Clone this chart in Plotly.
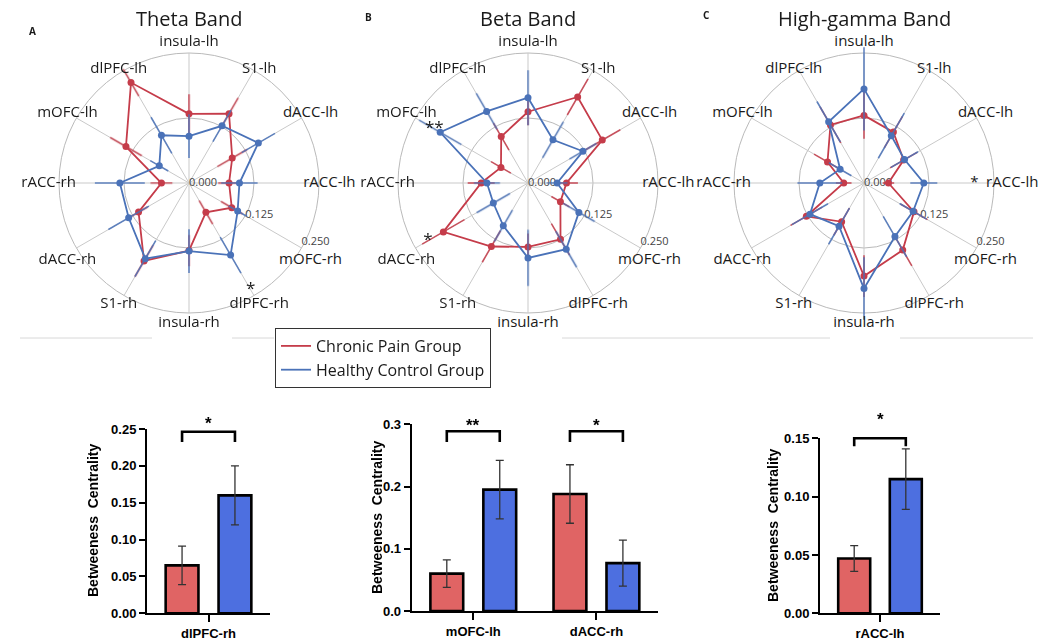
import plotly.graph_objects as go

# ---------------- data ----------------
regions = ["insula-lh", "S1-lh", "dACC-lh", "rACC-lh", "mOFC-rh", "dlPFC-rh",
           "insula-rh", "S1-rh", "dACC-rh", "rACC-rh", "mOFC-lh", "dlPFC-lh"]

theta_pain = [0.133, 0.154, 0.096, 0.077, 0.095, 0.065, 0.130, 0.173, 0.112, 0.053, 0.140, 0.223]
theta_pain_err = [0.038, 0.035, 0.033, 0.021, 0.024, 0.026, 0.030, 0.035, 0.020, 0.021, 0.035, 0.030]
theta_ctrl = [0.090, 0.127, 0.154, 0.097, 0.108, 0.160, 0.131, 0.168, 0.134, 0.133, 0.066, 0.106]
theta_ctrl_err = [0.042, 0.035, 0.037, 0.035, 0.020, 0.040, 0.042, 0.040, 0.045, 0.048, 0.020, 0.040]

beta_pain = [0.137, 0.191, 0.165, 0.074, 0.072, 0.125, 0.123, 0.141, 0.188, 0.090, 0.060, 0.103]
beta_pain_err = [0.026, 0.040, 0.040, 0.022, 0.020, 0.035, 0.026, 0.035, 0.047, 0.026, 0.022, 0.030]
beta_ctrl = [0.164, 0.096, 0.122, 0.056, 0.113, 0.147, 0.144, 0.095, 0.077, 0.079, 0.195, 0.159]
beta_ctrl_err = [0.053, 0.040, 0.030, 0.020, 0.035, 0.040, 0.054, 0.035, 0.037, 0.025, 0.047, 0.040]

gamma_pain = [0.130, 0.113, 0.088, 0.047, 0.111, 0.149, 0.179, 0.086, 0.128, 0.039, 0.081, 0.129]
gamma_pain_err = [0.045, 0.035, 0.030, 0.011, 0.030, 0.035, 0.040, 0.030, 0.035, 0.015, 0.030, 0.040]
gamma_ctrl = [0.181, 0.105, 0.090, 0.115, 0.109, 0.119, 0.203, 0.096, 0.120, 0.085, 0.053, 0.136]
gamma_ctrl_err = [0.080, 0.050, 0.030, 0.026, 0.030, 0.045, 0.060, 0.040, 0.040, 0.043, 0.025, 0.045]

band_titles = ["Theta Band", "Beta Band", "High-gamma Band"]
panel_letters = ["A", "B", "C"]

radial_ticks = [0, 0.125, 0.25]
radial_ticktext = ["0.000", "0.125", "0.250"]
radial_label_region = "mOFC-rh"

# significance markers on radar: (band index, region, stars, radius or None = in front of label)
radar_sig = [(0, "dlPFC-rh", "*", 0.237), (1, "mOFC-lh", "**", 0.208),
             (1, "dACC-rh", "*", 0.222), (2, "rACC-lh", "*", None)]

# bar charts
bar1_cats = ["dlPFC-rh"]
bar1_pain = [0.065]
bar1_pain_err = [0.026]
bar1_ctrl = [0.160]
bar1_ctrl_err = [0.040]
bar1_stars = ["*"]

bar2_cats = ["mOFC-lh", "dACC-rh"]
bar2_pain = [0.060, 0.188]
bar2_pain_err = [0.022, 0.047]
bar2_ctrl = [0.195, 0.077]
bar2_ctrl_err = [0.047, 0.037]
bar2_stars = ["**", "*"]

bar3_cats = ["rACC-lh"]
bar3_pain = [0.047]
bar3_pain_err = [0.011]
bar3_ctrl = [0.115]
bar3_ctrl_err = [0.026]
bar3_stars = ["*"]

group_names = ["Chronic Pain Group", "Healthy Control Group"]
bar_ytitle = "Betweeness\u00a0 Centrality"

# ---------------- style ----------------
W, H = 1049, 644
RED = "#C53C4A"
BLUE = "#4A72B8"
BAR_RED = "#E06464"
BAR_BLUE = "#4D6FE0"
GRID = "#c9c9c9"
CIRCLE = "#bababa"
TXT = "#1a1a1a"
RFONT = "Open Sans"
BFONT = "Liberation Sans, Arial"
R_EDGE = 0.25      # outer circle value
R_MAX = 0.29       # radial range (room for region labels)
LABEL_R = 0.27     # radius of the region label ring
label_textpos = ["middle center", "bottom center", "middle center", "middle center",
                 "bottom center", "middle center", "middle center", "middle center",
                 "bottom center", "middle center", "middle center", "bottom center"]
radial_textpos = ["middle right", "middle right", "top right"]

def px_x(a, b):
    return [a / W, b / W]

def px_y(top, bottom):
    return [1 - bottom / H, 1 - top / H]

polar_centers = [189, 528, 864]
polar_cy = 183
edge_px = 130
dom_R = edge_px * R_MAX / R_EDGE

fig = go.Figure()

bands = [
    (theta_pain, theta_pain_err, theta_ctrl, theta_ctrl_err),
    (beta_pain, beta_pain_err, beta_ctrl, beta_ctrl_err),
    (gamma_pain, gamma_pain_err, gamma_ctrl, gamma_ctrl_err),
]

for bi, (p, pe, c, ce) in enumerate(bands):
    sub = "polar" if bi == 0 else f"polar{bi + 1}"
    # spokes
    sr, st = [], []
    for reg in regions:
        sr += [0, R_EDGE, None]
        st += [reg, reg, reg]
    fig.add_trace(go.Scatterpolar(r=sr, theta=st, mode="lines", subplot=sub,
                                  line=dict(color=GRID, width=1), connectgaps=False,
                                  showlegend=False, hoverinfo="skip"))
    # radial tick labels (left-anchored at the axis points)
    fig.add_trace(go.Scatterpolar(r=radial_ticks, theta=[radial_label_region] * len(radial_ticks),
                                  mode="text", text=radial_ticktext, subplot=sub,
                                  textposition=radial_textpos, cliponaxis=False,
                                  textfont=dict(size=11, family=RFONT, color="#444"),
                                  showlegend=False, hoverinfo="skip"))
    for gi, (vals, errs, col) in enumerate([(p, pe, RED), (c, ce, BLUE)]):
        er, et = [], []
        for reg, v, e in zip(regions, vals, errs):
            er += [max(v - e, 0), v + e, None]
            et += [reg, reg, reg]
        fig.add_trace(go.Scatterpolar(r=er, theta=et, mode="lines", subplot=sub,
                                      line=dict(color=col, width=1.6), opacity=0.85,
                                      connectgaps=False, showlegend=False, hoverinfo="skip"))
        fig.add_trace(go.Scatterpolar(r=list(vals) + [vals[0]], theta=regions + [regions[0]],
                                      mode="lines", subplot=sub, name=group_names[gi],
                                      line=dict(color=col, width=1.8),
                                      showlegend=(bi == 0), legendgroup=group_names[gi]))
        fig.add_trace(go.Scatterpolar(r=vals, theta=regions, mode="markers", subplot=sub,
                                      marker=dict(color=col, size=7),
                                      showlegend=False, legendgroup=group_names[gi]))
    labels = list(regions)
    for sbi, reg, s, rr in radar_sig:
        if sbi == bi and rr is None:
            j = regions.index(reg)
            labels[j] = s + "\u2002" + labels[j]
    fig.add_trace(go.Scatterpolar(r=[LABEL_R] * len(regions), theta=regions, mode="text",
                                  text=labels, subplot=sub, cliponaxis=False,
                                  textposition=label_textpos,
                                  textfont=dict(size=15, family=RFONT, color=TXT),
                                  showlegend=False, hoverinfo="skip"))

for bi, reg, s, rr in radar_sig:
    if rr is None:
        continue
    sub = "polar" if bi == 0 else f"polar{bi + 1}"
    fig.add_trace(go.Scatterpolar(r=[rr], theta=[reg], mode="text", text=[s], subplot=sub,
                                  textfont=dict(size=17, color=TXT, family=RFONT),
                                  cliponaxis=False, showlegend=False, hoverinfo="skip"))

polar_common = dict(
    bgcolor="rgba(0,0,0,0)",
    angularaxis=dict(rotation=90, direction="clockwise", categoryorder="array",
                     categoryarray=regions, showticklabels=False, showgrid=False,
                     showline=False, ticks=""),
    radialaxis=dict(range=[0, R_MAX], tickvals=radial_ticks, showticklabels=False,
                    angle=-30, showline=False, gridcolor=CIRCLE, gridwidth=1.2,
                    ticks="", layer="below traces"),
)
layout_polars = {}
for bi, cx in enumerate(polar_centers):
    key = "polar" if bi == 0 else f"polar{bi + 1}"
    layout_polars[key] = dict(polar_common,
                              domain=dict(x=px_x(cx - dom_R, cx + dom_R),
                                          y=px_y(polar_cy - dom_R, polar_cy + dom_R)))

# ---------------- bar charts ----------------
bar_sets = [
    (bar1_cats, bar1_pain, bar1_pain_err, bar1_ctrl, bar1_ctrl_err, bar1_stars),
    (bar2_cats, bar2_pain, bar2_pain_err, bar2_ctrl, bar2_ctrl_err, bar2_stars),
    (bar3_cats, bar3_pain, bar3_pain_err, bar3_ctrl, bar3_ctrl_err, bar3_stars),
]
bar_domains_x = [px_x(147, 270), px_x(411.7, 658), px_x(820, 940)]
bar_domains_y = [px_y(429, 613.3), px_y(424.3, 611), px_y(438.3, 613.3)]
bar_ranges = [[0, 0.25], [0, 0.3], [0, 0.15]]
bar_dticks = [0.05, 0.1, 0.05]
bar_fmts = [".2f", ".1f", ".2f"]
bracket_top = [0.985, 0.963, 1.0]
bracket_leg = [0.93, 0.905, 0.955]
star_y = [1.0, 0.963, 1.075]
ytitle_pos = [(93, 521), (377, 518), (773, 526)]

for k, (cats, p, pe, c, ce, stars) in enumerate(bar_sets):
    xa = "x" if k == 0 else f"x{k + 1}"
    ya = "y" if k == 0 else f"y{k + 1}"
    for vals, errs, col in [(p, pe, BAR_RED), (c, ce, BAR_BLUE)]:
        fig.add_trace(go.Bar(x=cats, y=vals, xaxis=xa, yaxis=ya, showlegend=False,
                             marker=dict(color=col, line=dict(color="black", width=2.6)),
                             error_y=dict(type="data", array=errs, color="#333",
                                          thickness=1.3, width=4)))
    yr = ya + " domain"
    off = 0.215
    for i, s in enumerate(stars):
        fig.add_shape(type="path", xref=xa, yref=yr,
                      path=f"M {i - off},{bracket_leg[k]} L {i - off},{bracket_top[k]} "
                           f"L {i + off},{bracket_top[k]} L {i + off},{bracket_leg[k]}",
                      line=dict(color="black", width=2.6))
        fig.add_annotation(x=i, y=star_y[k], xref=xa, yref=yr, text=f"<b>{s}</b>",
                           showarrow=False, yanchor="bottom", xanchor="center", yshift=-6,
                           font=dict(size=17, family=BFONT, color="black"))
    tx, ty = ytitle_pos[k]
    fig.add_annotation(x=tx / W, y=1 - ty / H, xref="paper", yref="paper",
                       text=f"<b>{bar_ytitle}</b>", textangle=-90, showarrow=False,
                       xanchor="center", yanchor="middle",
                       font=dict(size=14, family=BFONT, color="black"))

axis_font = dict(size=13, family=BFONT, color="black", weight="bold")
layout_axes = {}
for k in range(3):
    xk = "xaxis" if k == 0 else f"xaxis{k + 1}"
    yk = "yaxis" if k == 0 else f"yaxis{k + 1}"
    ya = "y" if k == 0 else f"y{k + 1}"
    xa = "x" if k == 0 else f"x{k + 1}"
    layout_axes[xk] = dict(domain=bar_domains_x[k], anchor=ya, showline=True, linecolor="black",
                           linewidth=2, ticks="outside", ticklen=7, tickwidth=2,
                           tickcolor="black", tickfont=axis_font, showgrid=False,
                           zeroline=False, automargin=False)
    layout_axes[yk] = dict(domain=bar_domains_y[k], anchor=xa, range=bar_ranges[k],
                           dtick=bar_dticks[k], tickformat=bar_fmts[k], showline=True,
                           linecolor="black", linewidth=2, ticks="outside", ticklen=6,
                           tickwidth=2, tickcolor="black", tickfont=axis_font,
                           showgrid=False, zeroline=False, automargin=False)

# ---------------- titles / letters ----------------
for bi, cx in enumerate(polar_centers):
    fig.add_annotation(x=cx / W, y=1 - 18 / H, xref="paper", yref="paper",
                       text=band_titles[bi], showarrow=False, yanchor="middle",
                       xanchor="center", font=dict(size=20, family=RFONT, color=TXT))
letter_pos = [(32, 31), (368, 17), (706, 15)]
for (lx, ly), L in zip(letter_pos, panel_letters):
    fig.add_annotation(x=lx / W, y=1 - ly / H, xref="paper", yref="paper",
                       text=f"<b>{L}</b>", showarrow=False, yanchor="middle",
                       xanchor="center", font=dict(size=10, family=RFONT, color=TXT))

# separator line segments (gaps under bottom radar labels)
for a, b in [(20, 152), (232, 274), (562, 830), (900, 1033)]:
    fig.add_shape(type="line", xref="paper", yref="paper", x0=a / W, x1=b / W,
                  y0=1 - 338 / H, y1=1 - 338 / H, line=dict(color="#d8d8d8", width=1))

fig.update_layout(
    width=W, height=H, margin=dict(l=0, r=0, t=0, b=0, autoexpand=False),
    paper_bgcolor="white", plot_bgcolor="white",
    barmode="group", bargap=0.14, bargroupgap=0.38,
    legend=dict(x=275 / W, y=1 - 328 / H, xanchor="left", yanchor="top",
                bordercolor="#333", borderwidth=1, bgcolor="white",
                font=dict(size=16, family=RFONT, color=TXT), itemwidth=30,
                tracegroupgap=0),
    **layout_polars, **layout_axes,
)

fig.write_html("out.html", post_script="document.body.style.margin='0';",
               config={"displayModeBar": False})
